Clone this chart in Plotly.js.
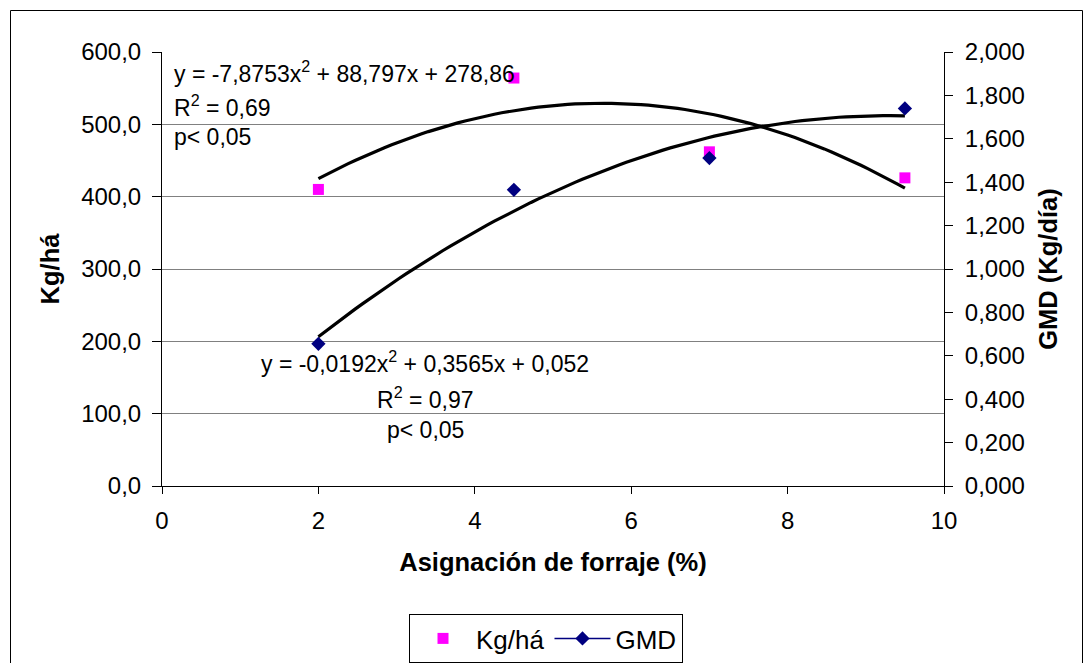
<!DOCTYPE html>
<html>
<head>
<meta charset="utf-8">
<script src="https://cdn.plot.ly/plotly-3.0.1.min.js"></script>
<style>
html,body{margin:0;padding:0;background:#fff;}
#chart{width:1083px;height:663px;}
</style>
</head>
<body>
<div id="chart"></div>
<script>
// ---- data ----
const asignacion = [2, 4.5, 7, 9.5];          // Asignación de forraje (%)
const kgHa = [410, 564, 462, 426];            // Kg/há (left axis)
const gmd = [0.655, 1.365, 1.511, 1.740];     // GMD Kg/día (right axis)

// polynomial trendline coefficients as printed on the chart [a2, a1, a0]
const kgHaTrendCoef = [-7.8753, 88.797, 278.86];
const gmdTrendCoef = [-0.0192, 0.3565, 0.052];

const eq1Lines = ["y = -7,8753x<sup>2</sup> + 88,797x + 278,86", "R<sup>2</sup> = 0,69", "p< 0,05"];
const eq2Lines = ["y = -0,0192x<sup>2</sup> + 0,3565x + 0,052", "R<sup>2</sup> = 0,97", "p< 0,05"];

const FONT = '"Liberation Sans", Arial, sans-serif';

// trendline sampled across the data range
function trend(coef) {
  const xs = [], ys = [];
  const x0 = Math.min(...asignacion), x1 = Math.max(...asignacion);
  const n = 80;
  for (let i = 0; i <= n; i++) {
    const x = x0 + (x1 - x0) * i / n;
    xs.push(x);
    ys.push(coef[0] * x * x + coef[1] * x + coef[2]);
  }
  return {xs, ys};
}
const t1 = trend(kgHaTrendCoef);
const t2 = trend(gmdTrendCoef);

// GMD points with gaps so that no connecting line is drawn (legend still shows line+marker)
const gmdX = [], gmdY = [];
asignacion.forEach((x, i) => {
  if (i > 0) { gmdX.push(null); gmdY.push(null); }
  gmdX.push(x); gmdY.push(gmd[i]);
});

const traces = [
  {x: t1.xs, y: t1.ys, mode: 'lines', line: {color: '#000', width: 3.2}, showlegend: false, hoverinfo: 'skip', yaxis: 'y'},
  {x: t2.xs, y: t2.ys, mode: 'lines', line: {color: '#000', width: 3.2}, showlegend: false, hoverinfo: 'skip', yaxis: 'y2'},
  {x: asignacion, y: kgHa, name: 'Kg/há', mode: 'markers', yaxis: 'y',
   marker: {symbol: 'square', size: 11, color: '#FF00FF'}},
  {x: gmdX, y: gmdY, name: 'GMD', mode: 'lines+markers', yaxis: 'y2', connectgaps: false,
   line: {color: '#000080', width: 1.5},
   marker: {symbol: 'diamond', size: 11, color: '#000080'}}
];

const tickFont = {family: FONT, size: 24, color: '#000'};
const annFont = {family: FONT, size: 23, color: '#000'};
const legendFont = {family: FONT, size: 26, color: '#000'};
const titleFont = {family: FONT, size: 25.5, color: '#000', weight: 'bold'};

const annotations = [];
const ann1Y = [72, 106, 137];
eq1Lines.forEach((t, i) => annotations.push({
  text: t, xref: 'paper', yref: 'paper', x: (172 - 162) / 782, y: (486 - ann1Y[i]) / 434,
  xanchor: 'left', yanchor: 'middle', showarrow: false, font: annFont
}));
const ann2Y = [362, 398, 430];
eq2Lines.forEach((t, i) => annotations.push({
  text: t, xref: 'paper', yref: 'paper', x: (425 - 162) / 782, y: (486 - ann2Y[i]) / 434,
  xanchor: 'center', yanchor: 'middle', showarrow: false, font: annFont
}));

const layout = {
  width: 1083, height: 663,
  margin: {l: 162, r: 139, t: 52, b: 177, pad: 0},
  paper_bgcolor: '#fff', plot_bgcolor: '#fff',
  separators: ',.',
  font: {family: FONT, size: 24, color: '#000'},
  showlegend: true,
  legend: {
    orientation: 'h', xref: 'container', yref: 'container',
    x: 409 / 1083, y: (663 - 614) / 663, xanchor: 'left', yanchor: 'top',
    bordercolor: '#000', borderwidth: 1, bgcolor: '#fff', font: legendFont,
    itemwidth: 56
  },
  xaxis: {
    range: [0, 10], dtick: 2, tick0: 0, tickformat: 'd',
    showline: true, linecolor: '#000', linewidth: 1,
    ticks: 'outside', ticklen: 7, tickcolor: '#000', tickfont: tickFont,
    ticklabelstandoff: 6, automargin: false,
    showgrid: false, zeroline: false,
    title: {text: 'Asignación de forraje (%)', font: titleFont, standoff: 20}
  },
  yaxis: {
    range: [0, 600], dtick: 100, tick0: 0, tickformat: '.1f',
    showline: true, linecolor: '#000', linewidth: 1,
    ticks: 'outside', ticklen: 9, tickcolor: '#000', tickfont: tickFont,
    ticklabelstandoff: 6, automargin: false,
    showgrid: true, gridcolor: '#808080', gridwidth: 1, zeroline: false,
    title: {text: 'Kg/há', font: titleFont, standoff: 14}
  },
  yaxis2: {
    range: [0, 2], dtick: 0.2, tick0: 0, tickformat: '.3f',
    overlaying: 'y', side: 'right', anchor: 'x',
    showline: true, linecolor: '#000', linewidth: 1,
    ticks: 'outside', ticklen: 8, tickcolor: '#000', tickfont: tickFont,
    ticklabelstandoff: 7, automargin: false,
    showgrid: false, zeroline: false,
    title: {text: 'GMD (Kg/día)', font: titleFont, standoff: 15}
  },
  yaxis3: {
    range: [0, 2], dtick: 0.2, tick0: 0,
    overlaying: 'y', side: 'right', anchor: 'x', automargin: false,
    showline: false, ticks: 'inside', ticklen: 8, tickcolor: '#000',
    showticklabels: false, showgrid: false, zeroline: false
  },
  shapes: [{
    type: 'rect', xref: 'paper', yref: 'paper',
    x0: (10.5 - 162) / 782, x1: (1082.5 - 162) / 782,
    y0: (486 - 10.5) / 434, y1: (486 - 700) / 434,
    line: {color: '#000', width: 1}, fillcolor: 'rgba(0,0,0,0)', layer: 'below'
  }],
  annotations: annotations
};

Plotly.newPlot('chart', traces, layout, {displayModeBar: false, staticPlot: true});
</script>
</body>
</html>
